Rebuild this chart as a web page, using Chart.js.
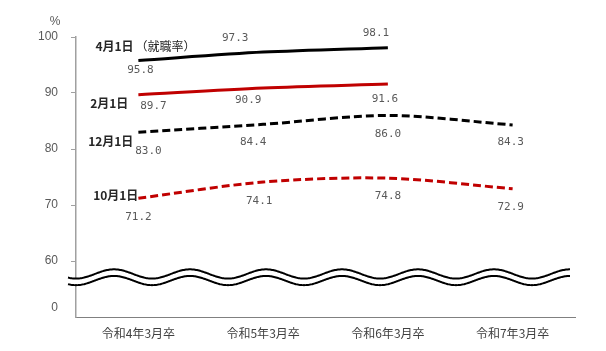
<!DOCTYPE html>
<html lang="ja">
<head>
<meta charset="UTF-8">
<title>就職率の推移</title>
<script src="https://cdn.jsdelivr.net/npm/chart.js"></script>
<style>
  html, body { margin: 0; padding: 0; background: #fff; }
  #wrap { width: 606px; height: 351px; position: relative; }
</style>
</head>
<body>
<div id="wrap"><canvas id="chart"></canvas></div>
<script>
// data
const categories = ['令和4年3月卒', '令和5年3月卒', '令和6年3月卒', '令和7年3月卒'];
const seriesNames = ['4月1日', '2月1日', '12月1日', '10月1日'];
const apr1 = [95.8, 97.3, 98.1, null];
const feb1 = [89.7, 90.9, 91.6, null];
const dec1 = [83.0, 84.4, 86.0, 84.3];
const oct1 = [71.2, 74.1, 74.8, 72.9];
const yTicks = [60, 70, 80, 90, 100];
const zeroTickAt = 51.6;   // where the "0" label sits below the axis break

// label placement (px, relative to each point)
const labelOffsets = [
  [[2, 10], [-28, -14], [-12, -14], null],
  [[15, 11], [-15, 12], [-3, 15], null],
  [[10, 19], [-10, 18], [0, 19], [-2, 17]],
  [[0, 19], [-4, 19], [0, 18], [-2, 18]]
];
// series name: [dx of right edge from first point, dy]
const nameOffsets = [[-43, -14], [-10, 9], [-5, 9], [0, -3]];

const ctx = document.getElementById('chart').getContext('2d');

const labelPlugin = {
  id: 'labels',
  afterDraw(chart) {
    const c = chart.ctx;
    const xs = chart.scales.x, ys = chart.scales.y;
    c.save();
    // data values
    c.font = '11px "DejaVu Sans Mono", monospace';
    c.fillStyle = '#595959';
    c.textAlign = 'center';
    c.textBaseline = 'middle';
    chart.data.datasets.forEach((ds, i) => {
      ds.data.forEach((v, j) => {
        if (v === null) return;
        const off = labelOffsets[i][j];
        const px = xs.getPixelForValue(j) + off[0];
        const py = ys.getPixelForValue(v) + off[1];
        c.fillText(v.toFixed(1), px, py);
      });
    });
    // series names
    c.fillStyle = '#262626';
    c.textBaseline = 'middle';
    chart.data.datasets.forEach((ds, i) => {
      const x0 = xs.getPixelForValue(0);
      const y0 = ys.getPixelForValue(ds.data[0]);
      const off = nameOffsets[i];
      c.font = 'bold 12px "Noto Sans CJK JP", sans-serif';
      if (i === 0) {
        c.textAlign = 'left';
        const sx = x0 + off[0];
        c.fillText(seriesNames[i], sx, y0 + off[1]);
        const w = c.measureText(seriesNames[i]).width;
        c.font = '12px "Noto Sans CJK JP", sans-serif';
        c.fillText('（就職率）', sx + w + 2, y0 + off[1]);
      } else {
        c.textAlign = 'right';
        c.fillText(seriesNames[i], x0 + off[0], y0 + off[1]);
      }
    });
    // unit
    c.font = '12px "Liberation Sans", sans-serif';
    c.fillStyle = '#595959';
    c.textAlign = 'center';
    c.fillText('%', 55, ys.getPixelForValue(100) - 15);

    // axis break (double wave)
    const area = chart.chartArea;
    const mid = ys.getPixelForValue(57.1);
    const startX = area.left - 8, endX = area.right - 5;
    const period = 76, crest = 114, amp = 4.6;
    const wave = (x, dy) => mid + dy - amp * Math.sin(2 * Math.PI * (x - crest) / period + Math.PI / 2);
    c.beginPath();
    for (let x = startX; x <= endX; x += 1) c.lineTo(x, wave(x, -3.3));
    for (let x = endX; x >= startX; x -= 1) c.lineTo(x, wave(x, 3.3));
    c.closePath();
    c.fillStyle = '#fff';
    c.fill();
    c.strokeStyle = '#000';
    c.lineWidth = 2;
    [-3.3, 3.3].forEach(dy => {
      c.beginPath();
      for (let x = startX; x <= endX; x += 1) c.lineTo(x, wave(x, dy));
      c.stroke();
    });
    c.restore();
  }
};

new Chart(ctx, {
  type: 'line',
  data: {
    labels: categories,
    datasets: [
      { label: seriesNames[0], data: apr1, borderColor: '#000', borderWidth: 3 },
      { label: seriesNames[1], data: feb1, borderColor: '#c00000', borderWidth: 3 },
      { label: seriesNames[2], data: dec1, borderColor: '#000', borderWidth: 3, borderDash: [8, 4] },
      { label: seriesNames[3], data: oct1, borderColor: '#c00000', borderWidth: 3, borderDash: [8, 4] }
    ]
  },
  options: {
    responsive: true,
    maintainAspectRatio: false,
    animation: false,
    layout: { padding: { left: 0, right: 31, top: 37, bottom: 0 } },
    elements: {
      point: { radius: 0, hoverRadius: 0 },
      line: { tension: 0.3, fill: false, borderCapStyle: 'butt' }
    },
    plugins: { legend: { display: false }, tooltip: { enabled: false } },
    scales: {
      x: {
        offset: true,
        grid: { display: true, drawOnChartArea: false, drawTicks: false },
        border: { color: '#808080', width: 1 },
        ticks: {
          padding: 9,
          color: '#404040',
          font: { family: '"Noto Sans CJK JP", sans-serif', size: 12 }
        },
        afterFit(scale) { scale.height = 34; }
      },
      y: {
        min: 50,
        max: 100,
        afterBuildTicks(scale) {
          scale.ticks = [{ value: zeroTickAt }].concat(yTicks.map(v => ({ value: v })));
        },
        grid: {
          drawOnChartArea: false,
          tickLength: 5,
          color: c => (c.tick && c.tick.value < 55 ? 'rgba(0,0,0,0)' : '#a0a0a0')
        },
        border: { color: '#a0a0a0', width: 1.5 },
        ticks: {
          padding: 13,
          color: '#595959',
          font: { family: '"Liberation Sans", sans-serif', size: 12 },
          callback: v => (v < 55 ? '0' : String(v))
        },
        afterFit(scale) { scale.width = 76; }
      }
    }
  },
  plugins: [labelPlugin]
});
</script>
</body>
</html>
